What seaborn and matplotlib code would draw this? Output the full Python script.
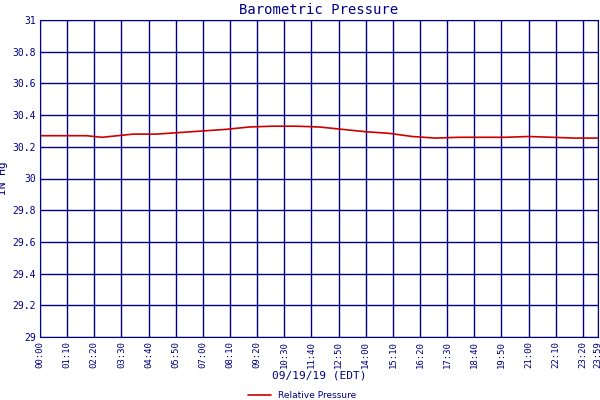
import numpy as np
import pandas as pd
import seaborn as sns
import matplotlib.pyplot as plt

# Hourly readings (minutes since midnight, inches Hg)
minutes = [0, 60, 120, 160, 200, 240, 300, 360, 420, 480, 540, 600, 660, 720,
           780, 840, 900, 960, 1020, 1080, 1140, 1200, 1260, 1320, 1380, 1439]
pressure = [30.27, 30.27, 30.27, 30.26, 30.27, 30.28, 30.28, 30.29, 30.30, 30.31,
            30.325, 30.33, 30.33, 30.325, 30.31, 30.295, 30.285, 30.265, 30.255,
            30.26, 30.26, 30.26, 30.265, 30.26, 30.255, 30.255]
tick_minutes = list(range(0, 1401, 70)) + [1439]
tick_labels = ["%02d:%02d" % (m // 60, m % 60) for m in tick_minutes]
y_ticks = [29, 29.2, 29.4, 29.6, 29.8, 30, 30.2, 30.4, 30.6, 30.8, 31]

df = pd.DataFrame({"minute": minutes, "pressure": pressure})

sns.set_style("white")
fig = plt.figure(figsize=(6, 4), dpi=100)
ax = fig.add_axes([40 / 600, 63 / 400, 558 / 600, 317 / 400])
sns.lineplot(data=df, x="minute", y="pressure", color="#cc0000", lw=1.2, ax=ax,
             label="Relative Pressure")

navy = "#000080"
ax.set_xlim(0, 1439)
ax.set_ylim(29, 31)
ax.set_xticks(tick_minutes)
ax.set_xticklabels(tick_labels, rotation=90, fontsize=6.5, color=navy, family="monospace")
ax.set_yticks(y_ticks)
ax.set_yticklabels(["%g" % v for v in y_ticks], fontsize=7, color=navy, family="monospace")
ax.grid(which="major", color=navy, lw=1)
ax.tick_params(length=0, pad=3)
for s in ax.spines.values():
    s.set_color(navy)
ax.set_xlabel("09/19/19 (EDT)", fontsize=8, color=navy, family="monospace", labelpad=2)
ax.set_ylabel("IN Hg", fontsize=8, color=navy, family="monospace", labelpad=4)
ax.yaxis.set_label_coords(-0.058, 0.5)
ax.set_title("Barometric Pressure", fontsize=10, color=navy, family="monospace", pad=4)
ax.legend(loc="center", bbox_to_anchor=(0.47, -0.185), frameon=False,
          fontsize=6.5, handlelength=2.5, labelcolor=navy, borderpad=0)

fig.savefig("out.png")
